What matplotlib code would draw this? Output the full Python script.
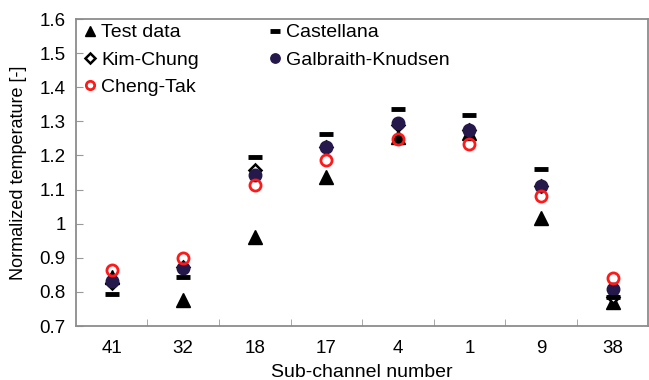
import numpy as np
import matplotlib.pyplot as plt

plt.rcParams['font.family'] = ['Liberation Sans', 'DejaVu Sans']

channels = ['41', '32', '18', '17', '4', '1', '9', '38']

test_data = [0.845, 0.775, 0.96, 1.137, 1.255, 1.265, 1.018, 0.77]
castellana = [0.795, 0.845, 1.195, 1.263, 1.335, 1.318, 1.161, 0.785]
kim_chung = [0.826, 0.873, 1.157, 1.225, 1.29, 1.275, 1.11, 0.786]
galbraith = [0.833, 0.87, 1.143, 1.225, 1.294, 1.275, 1.11, 0.808]
cheng_tak = [0.864, 0.899, 1.114, 1.187, 1.249, 1.233, 1.081, 0.842]

x = np.arange(len(channels))

fig = plt.figure(figsize=(6.49, 3.8), dpi=100)
ax = fig.add_axes([0.117, 0.142, 0.882, 0.808])

ax.plot(x, test_data, linestyle='none', marker='^', markersize=10,
        color='black', label='Test data')
ax.plot(x, kim_chung, linestyle='none', marker='D', markersize=6.5,
        markerfacecolor='white', markeredgecolor='black', markeredgewidth=1.8,
        label='Kim-Chung')
ax.plot(x, galbraith, linestyle='none', marker='o', markersize=9,
        color='#25184a', label='Galbraith-Knudsen')
ax.plot(x, cheng_tak, linestyle='none', marker='o', markersize=8,
        markerfacecolor='none', markeredgecolor='#ff1a1a', markeredgewidth=2,
        label='Cheng-Tak')
ax.plot(x, castellana, linestyle='none', marker='_', markersize=10,
        markeredgewidth=3.5, color='black', label='Castellana')

ax.set_xlim(-0.5, len(channels) - 0.5)
ax.set_ylim(0.7, 1.6)
ax.set_yticks(np.arange(0.7, 1.61, 0.1))
ax.set_yticklabels(['0.7', '0.8', '0.9', '1', '1.1', '1.2', '1.3', '1.4', '1.5', '1.6'])
ax.set_xticks(x)
ax.set_xticklabels(channels)
ax.set_xticks(np.arange(0.5, len(channels) - 0.5, 1), minor=True)

ax.tick_params(axis='x', which='major', length=0, labelsize=13.5, pad=10)
ax.tick_params(axis='x', which='minor', direction='in', length=5, color='#999999')
ax.tick_params(axis='y', direction='in', length=5, color='#999999', labelsize=13.5, pad=7.5)

for side in ['left', 'bottom', 'top', 'right']:
    ax.spines[side].set_color('#8c8c8c')
    ax.spines[side].set_linewidth(1.3)

ax.set_xlabel('Sub-channel number', fontsize=14, labelpad=5)
ax.set_ylabel('Normalized temperature [-]', fontsize=13, labelpad=9)

handles, labels = ax.get_legend_handles_labels()
order = ['Test data', 'Kim-Chung', 'Cheng-Tak', 'Castellana', 'Galbraith-Knudsen']
leg_handles = [handles[labels.index(name)] for name in order]
ax.legend(leg_handles, order, ncol=2, loc='upper left', frameon=False,
          fontsize=14, markerscale=0.75, handlelength=0.6, handletextpad=0.3,
          columnspacing=3.6, labelspacing=0.5, borderaxespad=0.0,
          bbox_to_anchor=(0.0, 1.01))

fig.savefig('out.png', dpi=100)
